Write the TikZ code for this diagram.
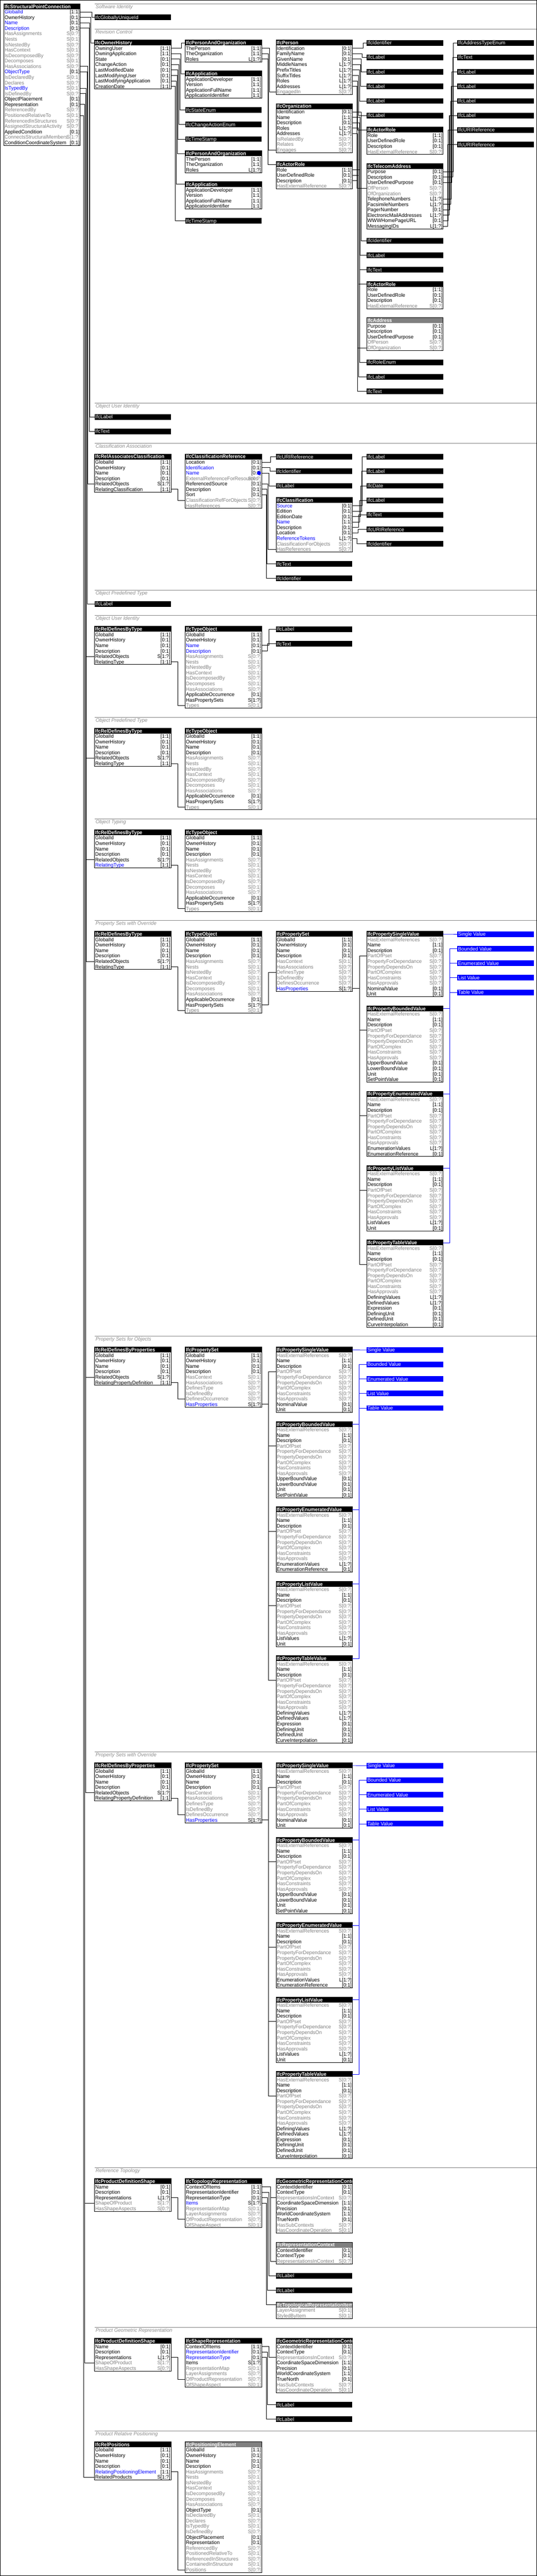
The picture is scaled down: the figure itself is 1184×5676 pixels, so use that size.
\documentclass[tikz,border=0pt]{standalone}
\usepackage{fontspec}
\newfontfamily\rfont{Liberation Sans}[FakeStretch=0.97]
\newfontfamily\hfont{Liberation Sans}[FakeStretch=0.93]
\definecolor{nB}{RGB}{0,0,0}\definecolor{cB}{RGB}{0,0,0}
\definecolor{nU}{RGB}{0,0,255}\definecolor{cU}{RGB}{0,0,0}
\definecolor{nG}{RGB}{128,128,128}\definecolor{cG}{RGB}{128,128,128}
\definecolor{nV}{RGB}{0,0,255}\definecolor{cV}{RGB}{128,128,128}
\definecolor{hgray}{RGB}{128,128,128}
\definecolor{sepgray}{RGB}{128,128,128}
\definecolor{secgray}{RGB}{140,140,140}
\definecolor{pblue}{RGB}{0,0,255}
\tikzset{
 rtxt/.style={inner sep=0pt,outer sep=0pt,font=\rfont\fontsize{11.3}{12}\selectfont},
 htxt/.style={inner sep=0pt,outer sep=0pt,text=white,font=\hfont\bfseries\fontsize{11.3}{12}\selectfont},
 ttxt/.style={inner sep=0pt,outer sep=0pt,text=white,font=\rfont\fontsize{11.3}{12}\selectfont},
 stxt/.style={inner sep=0pt,outer sep=0pt,text=secgray,font=\rfont\itshape\fontsize{11.3}{12}\selectfont},
 bx/.style={draw=black,line width=1pt},
 cnl/.style={line width=1pt},
 sepl/.style={draw=sepgray,line width=1pt},
}
\newcommand\ebox[6][black]{%
 \fill[#1] (#3,#4) rectangle ++(168.5,12);
 \begin{scope}
 \clip (#3,#4) rectangle ++(168.5,12);
 \node[htxt,anchor=base west] (#2) at ({#3+1.5},{#4+10}) {#5};
 \end{scope}
 \coordinate (#2-L0) at (#3,{#4+6});
 \coordinate (#2-R0) at ({#3+168.5},{#4+6});
 \foreach \nm/\cd/\cl [count=\i] in #6 {%
   \node[rtxt,text=n\cl,anchor=base west] at ({#3+1.5},{#4+12*\i+10}) {\nm};
   \node[rtxt,text=c\cl,anchor=base east] at ({#3+167},{#4+12*\i+10}) {\cd};
   \coordinate (#2-L\i) at (#3,{#4+12*\i+6});
   \coordinate (#2-R\i) at ({#3+168.5},{#4+12*\i+6});
   \xdef\nrows{\i}%
 }
 \draw[bx] (#3,#4) rectangle ({#3+168.5},{#4+12+12*\nrows});
}
\newcommand\tb[5][black]{%
 \fill[#1] (#3,#4) rectangle ++(168.5,12.4);
 \node[ttxt,anchor=base west] (#2) at ({#3+1.5},{#4+10.2}) {#5};
 \coordinate (#2-L0) at (#3,{#4+6.2});
}
\newcommand\cn[4][black]{%
 \coordinate (cV) at (#3,0);
 \draw[cnl,draw=#1] (#2) -| (cV |- #4) -- (#4);
}
\newcommand\sect[3]{%
 \draw[sepl] (208.5,#2) -- (1183,#2);
 \node[stxt,anchor=base west] (#1) at (211,{#2+10.3}) {#3};
}
\def\lSPC{GlobalId/[1:1]/U,OwnerHistory/[0:1]/B,Name/[0:1]/U,Description/[0:1]/U,HasAssignments/S[0:?]/G,Nests/S[0:1]/G,IsNestedBy/S[0:?]/G,HasContext/S[0:1]/G,IsDecomposedBy/S[0:?]/G,Decomposes/S[0:1]/G,HasAssociations/S[0:?]/G,ObjectType/[0:1]/U,IsDeclaredBy/S[0:1]/G,Declares/S[0:?]/G,IsTypedBy/S[0:1]/V,IsDefinedBy/S[0:?]/G,ObjectPlacement/[0:1]/B,Representation/[0:1]/B,ReferencedBy/S[0:?]/G,PositionedRelativeTo/S[0:1]/G,ReferencedInStructures/S[0:?]/G,AssignedStructuralActivity/S[0:?]/G,AppliedCondition/[0:1]/B,ConnectsStructuralMembers/S[1:?]/G,ConditionCoordinateSystem/[0:1]/B}
\def\lOH{OwningUser/[1:1]/B,OwningApplication/[1:1]/B,State/[0:1]/B,ChangeAction/[0:1]/B,LastModifiedDate/[0:1]/B,LastModifyingUser/[0:1]/B,LastModifyingApplication/[0:1]/B,CreationDate/[1:1]/B}
\def\lPAO{ThePerson/[1:1]/B,TheOrganization/[1:1]/B,Roles/L[1:?]/B}
\def\lAPP{ApplicationDeveloper/[1:1]/B,Version/[1:1]/B,ApplicationFullName/[1:1]/B,ApplicationIdentifier/[1:1]/B}
\def\lPER{Identification/[0:1]/B,FamilyName/[0:1]/B,GivenName/[0:1]/B,MiddleNames/L[1:?]/B,PrefixTitles/L[1:?]/B,SuffixTitles/L[1:?]/B,Roles/L[1:?]/B,Addresses/L[1:?]/B,EngagedIn/S[0:?]/G}
\def\lORG{Identification/[0:1]/B,Name/[1:1]/B,Description/[0:1]/B,Roles/L[1:?]/B,Addresses/L[1:?]/B,IsRelatedBy/S[0:?]/G,Relates/S[0:?]/G,Engages/S[0:?]/G}
\def\lAR{Role/[1:1]/B,UserDefinedRole/[0:1]/B,Description/[0:1]/B,HasExternalReference/S[0:?]/G}
\def\lTEL{Purpose/[0:1]/B,Description/[0:1]/B,UserDefinedPurpose/[0:1]/B,OfPerson/S[0:?]/G,OfOrganization/S[0:?]/G,TelephoneNumbers/L[1:?]/B,FacsimileNumbers/L[1:?]/B,PagerNumber/[0:1]/B,ElectronicMailAddresses/L[1:?]/B,WWWHomePageURL/[0:1]/B,MessagingIDs/L[1:?]/B}
\def\lADR{Purpose/[0:1]/B,Description/[0:1]/B,UserDefinedPurpose/[0:1]/B,OfPerson/S[0:?]/G,OfOrganization/S[0:?]/G}
\def\lRAC{GlobalId/[1:1]/B,OwnerHistory/[0:1]/B,Name/[0:1]/B,Description/[0:1]/B,RelatedObjects/S[1:?]/B,RelatingClassification/[1:1]/B}
\def\lCR{Location/[0:1]/B,Identification/[0:1]/U,Name/[0:1]/U,ExternalReferenceForResources/S[0:?]/G,ReferencedSource/[0:1]/B,Description/[0:1]/B,Sort/[0:1]/B,ClassificationRefForObjects/S[0:?]/G,HasReferences/S[0:?]/G}
\def\lCL{Source/[0:1]/U,Edition/[0:1]/B,EditionDate/[0:1]/B,Name/[1:1]/U,Description/[0:1]/B,Location/[0:1]/B,ReferenceTokens/L[1:?]/U,ClassificationForObjects/S[0:?]/G,HasReferences/S[0:?]/G}
\def\lRDT{GlobalId/[1:1]/B,OwnerHistory/[0:1]/B,Name/[0:1]/B,Description/[0:1]/B,RelatedObjects/S[1:?]/B,RelatingType/[1:1]/B}
\def\lRDTb{GlobalId/[1:1]/B,OwnerHistory/[0:1]/B,Name/[0:1]/B,Description/[0:1]/B,RelatedObjects/S[1:?]/B,RelatingType/[1:1]/U}
\def\lTO{GlobalId/[1:1]/B,OwnerHistory/[0:1]/B,Name/[0:1]/B,Description/[0:1]/B,HasAssignments/S[0:?]/G,Nests/S[0:1]/G,IsNestedBy/S[0:?]/G,HasContext/S[0:1]/G,IsDecomposedBy/S[0:?]/G,Decomposes/S[0:1]/G,HasAssociations/S[0:?]/G,ApplicableOccurrence/[0:1]/B,HasPropertySets/S[1:?]/B,Types/S[0:1]/G}
\def\lTOb{GlobalId/[1:1]/B,OwnerHistory/[0:1]/B,Name/[0:1]/U,Description/[0:1]/U,HasAssignments/S[0:?]/G,Nests/S[0:1]/G,IsNestedBy/S[0:?]/G,HasContext/S[0:1]/G,IsDecomposedBy/S[0:?]/G,Decomposes/S[0:1]/G,HasAssociations/S[0:?]/G,ApplicableOccurrence/[0:1]/B,HasPropertySets/S[1:?]/B,Types/S[0:1]/G}
\def\lPS{GlobalId/[1:1]/B,OwnerHistory/[0:1]/B,Name/[0:1]/B,Description/[0:1]/B,HasContext/S[0:1]/G,HasAssociations/S[0:?]/G,DefinesType/S[0:?]/G,IsDefinedBy/S[0:?]/G,DefinesOccurrence/S[0:?]/G,HasProperties/S[1:?]/U}
\def\lPVc{HasExternalReferences/S[0:?]/G,Name/[1:1]/B,Description/[0:1]/B,PartOfPset/S[0:?]/G,PropertyForDependance/S[0:?]/G,PropertyDependsOn/S[0:?]/G,PartOfComplex/S[0:?]/G,HasConstraints/S[0:?]/G,HasApprovals/S[0:?]/G}
\edef\lPSV{\lPVc,NominalValue/[0:1]/B,Unit/[0:1]/B}
\edef\lPBV{\lPVc,UpperBoundValue/[0:1]/B,LowerBoundValue/[0:1]/B,Unit/[0:1]/B,SetPointValue/[0:1]/B}
\edef\lPEV{\lPVc,EnumerationValues/L[1:?]/B,EnumerationReference/[0:1]/B}
\edef\lPLV{\lPVc,ListValues/L[1:?]/B,Unit/[0:1]/B}
\edef\lPTV{\lPVc,DefiningValues/L[1:?]/B,DefinedValues/L[1:?]/B,Expression/[0:1]/B,DefiningUnit/[0:1]/B,DefinedUnit/[0:1]/B,CurveInterpolation/[0:1]/B}
\def\lRDP{GlobalId/[1:1]/B,OwnerHistory/[0:1]/B,Name/[0:1]/B,Description/[0:1]/B,RelatedObjects/S[1:?]/B,RelatingPropertyDefinition/[1:1]/B}
\def\lPDS{Name/[0:1]/B,Description/[0:1]/B,Representations/L[1:?]/B,ShapeOfProduct/S[1:?]/G,HasShapeAspects/S[0:?]/G}
\def\lTR{ContextOfItems/[1:1]/B,RepresentationIdentifier/[0:1]/B,RepresentationType/[0:1]/B,Items/S[1:?]/U,RepresentationMap/S[0:1]/G,LayerAssignments/S[0:?]/G,OfProductRepresentation/S[0:?]/G,OfShapeAspect/S[0:1]/G}
\def\lSR{ContextOfItems/[1:1]/B,RepresentationIdentifier/[0:1]/U,RepresentationType/[0:1]/U,Items/S[1:?]/B,RepresentationMap/S[0:1]/G,LayerAssignments/S[0:?]/G,OfProductRepresentation/S[0:?]/G,OfShapeAspect/S[0:1]/G}
\def\lGRC{ContextIdentifier/[0:1]/B,ContextType/[0:1]/B,RepresentationsInContext/S[0:?]/G,CoordinateSpaceDimension/[1:1]/B,Precision/[0:1]/B,WorldCoordinateSystem/[1:1]/B,TrueNorth/[0:1]/B,HasSubContexts/S[0:?]/G,HasCoordinateOperation/S[0:1]/G}
\def\lRC{ContextIdentifier/[0:1]/B,ContextType/[0:1]/B,RepresentationsInContext/S[0:?]/G}
\def\lTRI{LayerAssignment/S[0:1]/G,StyledByItem/S[0:1]/G}
\def\lRP{GlobalId/[1:1]/B,OwnerHistory/[0:1]/B,Name/[0:1]/B,Description/[0:1]/B,RelatingPositioningElement/[1:1]/U,RelatedProducts/S[1:?]/B}
\def\lPE{GlobalId/[1:1]/B,OwnerHistory/[0:1]/B,Name/[0:1]/B,Description/[0:1]/B,HasAssignments/S[0:?]/G,Nests/S[0:1]/G,IsNestedBy/S[0:?]/G,HasContext/S[0:1]/G,IsDecomposedBy/S[0:?]/G,Decomposes/S[0:1]/G,HasAssociations/S[0:?]/G,ObjectType/[0:1]/B,IsDeclaredBy/S[0:1]/G,Declares/S[0:?]/G,IsTypedBy/S[0:1]/G,IsDefinedBy/S[0:?]/G,ObjectPlacement/[0:1]/B,Representation/[0:1]/B,ReferencedBy/S[0:?]/G,PositionedRelativeTo/S[0:1]/G,ReferencedInStructures/S[0:?]/G,ContainedInStructure/S[0:1]/G,Positions/S[0:?]/G}
% property value group: #1 prefix, #2 x, #3 y, #4 x of blue boxes
\newcommand\pvg[4]{%
 \ebox{#11}{#2}{#3}{IfcPropertySingleValue}{\lPSV}
 \ebox{#12}{#2}{#3+164}{IfcPropertyBoundedValue}{\lPBV}
 \ebox{#13}{#2}{#3+352}{IfcPropertyEnumeratedValue}{\lPEV}
 \ebox{#14}{#2}{#3+516}{IfcPropertyListValue}{\lPLV}
 \ebox{#15}{#2}{#3+680}{IfcPropertyTableValue}{\lPTV}
 \tb[pblue]{#1b1}{#4}{#3}{Single Value}
 \tb[pblue]{#1b2}{#4}{#3+32}{Bounded Value}
 \tb[pblue]{#1b3}{#4}{#3+64}{Enumerated Value}
 \tb[pblue]{#1b4}{#4}{#3+96}{List Value}
 \tb[pblue]{#1b5}{#4}{#3+128}{Table Value}
 \draw[cnl,draw=pblue] (#11-R0) -- (#1b1-L0);
 \cn[pblue]{#12-R0}{#4-16.5}{#1b2-L0}
 \cn[pblue]{#13-R0}{#4-16.5}{#1b3-L0}
 \cn[pblue]{#14-R0}{#4-16.5}{#1b4-L0}
 \cn[pblue]{#15-R0}{#4-16.5}{#1b5-L0}
}
\begin{document}
\begin{tikzpicture}[x=1pt,y=-1pt]
\useasboundingbox (0,0) rectangle (1184,5676);
\fill[white] (0,0) rectangle (1184,5676);
\draw[line width=1pt] (0.5,0.5) rectangle (1183.5,5675.5);
% ---------------- Software identity / revision control
\sect{sA}{8.3}{Software Identity}
\ebox{spc}{8.5}{8.3}{IfcStructuralPointConnection}{\lSPC}
\tb{guid}{208.5}{32.3}{IfcGloballyUniqueId}
\sect{sB}{64.3}{Revision Control}
\ebox{oh}{208.5}{88.3}{IfcOwnerHistory}{\lOH}
\ebox{pao}{408.5}{88.3}{IfcPersonAndOrganization}{\lPAO}
\ebox{app}{408.5}{156.3}{IfcApplication}{\lAPP}
\tb{stenum}{408.5}{236.3}{IfcStateEnum}
\tb{caenum}{408.5}{268.3}{IfcChangeActionEnum}
\tb{tsa}{408.5}{300.3}{IfcTimeStamp}
\ebox{paob}{408.5}{332.3}{IfcPersonAndOrganization}{\lPAO}
\ebox{appb}{408.5}{400.3}{IfcApplication}{\lAPP}
\tb{tsb}{408.5}{480.3}{IfcTimeStamp}
\ebox{per}{608.5}{88.3}{IfcPerson}{\lPER}
\ebox{org}{608.5}{228.3}{IfcOrganization}{\lORG}
\ebox{ara}{608.5}{356.3}{IfcActorRole}{\lAR}
\tb{pid}{808.5}{88.3}{IfcIdentifier}
\tb{pla}{808.5}{120.3}{IfcLabel}
\tb{plb}{808.5}{152.3}{IfcLabel}
\tb{plc}{808.5}{184.3}{IfcLabel}
\tb{pld}{808.5}{216.3}{IfcLabel}
\tb{ple}{808.5}{248.3}{IfcLabel}
\ebox{arb}{808.5}{280.3}{IfcActorRole}{\lAR}
\ebox{tel}{808.5}{360.3}{IfcTelecomAddress}{\lTEL}
\tb{oid}{808.5}{524.3}{IfcIdentifier}
\tb{ola}{808.5}{556.3}{IfcLabel}
\tb{ota}{808.5}{588.3}{IfcText}
\ebox{arc}{808.5}{620.3}{IfcActorRole}{\lAR}
\ebox[hgray]{adr}{808.5}{700.3}{IfcAddress}{\lADR}
\tb{roleenum}{808.5}{792.3}{IfcRoleEnum}
\tb{rla}{808.5}{824.3}{IfcLabel}
\tb{rta}{808.5}{856.3}{IfcText}
\tb{atenum}{1008.5}{88.3}{IfcAddressTypeEnum}
\tb{tta}{1008.5}{120.3}{IfcText}
\tb{tla}{1008.5}{152.3}{IfcLabel}
\tb{tlb}{1008.5}{184.3}{IfcLabel}
\tb{tlc}{1008.5}{216.3}{IfcLabel}
\tb{tld}{1008.5}{248.3}{IfcLabel}
\tb{tua}{1008.5}{280.3}{IfcURIReference}
\tb{tub}{1008.5}{312.3}{IfcURIReference}
% ---------------- Object user identity
\sect{sC}{888.3}{Object User Identity}
\tb{oui}{208.5}{912.3}{IfcLabel}
\tb{ouit}{208.5}{944.3}{IfcText}
% ---------------- Classification association
\sect{sD}{976.3}{Classification Association}
\ebox{rac}{208.5}{1000.3}{IfcRelAssociatesClassification}{\lRAC}
\ebox{cr}{408.5}{1000.3}{IfcClassificationReference}{\lCR}
\fill[pblue] (571,1042.3) circle[radius=4.5pt];
\tb{cru}{608.5}{1000.3}{IfcURIReference}
\tb{cri}{608.5}{1032.3}{IfcIdentifier}
\tb{crl}{608.5}{1064.3}{IfcLabel}
\ebox{cl}{608.5}{1096.3}{IfcClassification}{\lCL}
\tb{crt}{608.5}{1236.3}{IfcText}
\tb{crib}{608.5}{1268.3}{IfcIdentifier}
\tb{clla}{808.5}{1000.3}{IfcLabel}
\tb{cllb}{808.5}{1032.3}{IfcLabel}
\tb{cld}{808.5}{1064.3}{IfcDate}
\tb{cllc}{808.5}{1096.3}{IfcLabel}
\tb{clt}{808.5}{1128.3}{IfcText}
\tb{clu}{808.5}{1160.3}{IfcURIReference}
\tb{cli}{808.5}{1192.3}{IfcIdentifier}
% ---------------- Object predefined type
\sect{sE}{1300.3}{Object Predefined Type}
\tb{opl}{208.5}{1324.3}{IfcLabel}
% ---------------- Object user identity (type)
\sect{sF}{1356.3}{Object User Identity}
\ebox{rdta}{208.5}{1380.3}{IfcRelDefinesByType}{\lRDT}
\ebox{toa}{408.5}{1380.3}{IfcTypeObject}{\lTOb}
\tb{tol}{608.5}{1380.3}{IfcLabel}
\tb{tot}{608.5}{1412.3}{IfcText}
% ---------------- Object predefined type (type)
\sect{sG}{1580.3}{Object Predefined Type}
\ebox{rdtb}{208.5}{1604.3}{IfcRelDefinesByType}{\lRDT}
\ebox{tob}{408.5}{1604.3}{IfcTypeObject}{\lTO}
% ---------------- Object typing
\sect{sH}{1804.3}{Object Typing}
\ebox{rdtc}{208.5}{1828.3}{IfcRelDefinesByType}{\lRDTb}
\ebox{toc}{408.5}{1828.3}{IfcTypeObject}{\lTO}
% ---------------- Property sets with override
\sect{sI}{2028.3}{Property Sets with Override}
\ebox{rdtd}{208.5}{2052.3}{IfcRelDefinesByType}{\lRDT}
\ebox{tod}{408.5}{2052.3}{IfcTypeObject}{\lTO}
\ebox{psa}{608.5}{2052.3}{IfcPropertySet}{\lPS}
\pvg{pA}{808.5}{2052.3}{1008.5}
% ---------------- Property sets for objects
\sect{sJ}{2944.3}{Property Sets for Objects}
\ebox{rdpa}{208.5}{2968.3}{IfcRelDefinesByProperties}{\lRDP}
\ebox{psb}{408.5}{2968.3}{IfcPropertySet}{\lPS}
\pvg{pB}{608.5}{2968.3}{808.5}
% ---------------- Property sets with override (2)
\sect{sK}{3860.3}{Property Sets with Override}
\ebox{rdpb}{208.5}{3884.3}{IfcRelDefinesByProperties}{\lRDP}
\ebox{psc}{408.5}{3884.3}{IfcPropertySet}{\lPS}
\pvg{pC}{608.5}{3884.3}{808.5}
% ---------------- Reference topology
\sect{sL}{4776.3}{Reference Topology}
\ebox{pdsa}{208.5}{4800.3}{IfcProductDefinitionShape}{\lPDS}
\ebox{tr}{408.5}{4800.3}{IfcTopologyRepresentation}{\lTR}
\ebox{grca}{608.5}{4800.3}{IfcGeometricRepresentationContext}{\lGRC}
\ebox[hgray]{rc}{608.5}{4940.3}{IfcRepresentationContext}{\lRC}
\tb{trla}{608.5}{5008.3}{IfcLabel}
\tb{trlb}{608.5}{5040.3}{IfcLabel}
\ebox[hgray]{tri}{608.5}{5072.3}{IfcTopologicalRepresentationItem}{\lTRI}
% ---------------- Product geometric representation
\sect{sM}{5128.3}{Product Geometric Representation}
\ebox{pdsb}{208.5}{5152.3}{IfcProductDefinitionShape}{\lPDS}
\ebox{sr}{408.5}{5152.3}{IfcShapeRepresentation}{\lSR}
\ebox{grcb}{608.5}{5152.3}{IfcGeometricRepresentationContext}{\lGRC}
\tb{srla}{608.5}{5292.3}{IfcLabel}
\tb{srlb}{608.5}{5324.3}{IfcLabel}
% ---------------- Product relative positioning
\sect{sN}{5356.3}{Product Relative Positioning}
\ebox{rp}{208.5}{5380.3}{IfcRelPositions}{\lRP}
\ebox[hgray]{pe}{408.5}{5380.3}{IfcPositioningElement}{\lPE}
% ================= connectors
\cn{spc-R1}{202}{guid-L0}
\cn{spc-R2}{199.8}{oh-L0}
\cn{spc-R3}{198.3}{oui-L0}
\cn{spc-R4}{196.7}{ouit-L0}
\cn{spc-R11}{193.4}{rac-L5}
\cn{spc-R12}{191.8}{opl-L0}
\cn{spc-R15}{190.1}{rdta-L5}
\cn{spc-R15}{190.1}{rdtb-L5}
\cn{spc-R15}{190.1}{rdtc-L5}
\cn{spc-R15}{190.1}{rdtd-L5}
\cn{spc-R16}{188.4}{rdpa-L5}
\cn{spc-R16}{188.4}{rdpb-L5}
\cn{spc-R18}{186.4}{pdsa-L4}
\cn{spc-R18}{186.4}{pdsb-L4}
\cn{spc-R20}{184.7}{rp-L6}
% owner history
\cn{oh-R1}{400.5}{pao-L0}
\cn{oh-R2}{398.5}{app-L0}
\cn{oh-R3}{396.5}{stenum-L0}
\cn{oh-R4}{394.5}{caenum-L0}
\cn{oh-R5}{392.5}{tsa-L0}
\cn{oh-R6}{390.5}{paob-L0}
\cn{oh-R7}{388.5}{appb-L0}
\cn{oh-R8}{386.5}{tsb-L0}
\cn{pao-R1}{594.3}{per-L9}
\cn{pao-R2}{592.3}{org-L8}
\cn{pao-R3}{590.3}{ara-L0}
\cn{per-R1}{800.7}{pid-L0}
\cn{per-R2}{798.7}{pla-L0}
\cn{per-R3}{796.7}{plb-L0}
\cn{per-R4}{794.7}{plc-L0}
\cn{per-R5}{792.7}{pld-L0}
\cn{per-R6}{790.7}{ple-L0}
\cn{per-R7}{788.8}{arb-L0}
\cn{per-R8}{786.9}{tel-L4}
\cn{org-R1}{796.5}{oid-L0}
\cn{org-R2}{794.5}{ola-L0}
\cn{org-R3}{792.6}{ota-L0}
\cn{org-R4}{790.7}{arc-L0}
\cn{org-R5}{788.4}{adr-L5}
\cn{ara-R1}{792.6}{roleenum-L0}
\cn{ara-R2}{790.6}{rla-L0}
\cn{ara-R3}{788.6}{rta-L0}
\cn{tel-R1}{999.8}{atenum-L0}
\cn{tel-R2}{998.2}{tta-L0}
\cn{tel-R3}{996.6}{tla-L0}
\cn{tel-R6}{995}{tlb-L0}
\cn{tel-R7}{993.4}{tlc-L0}
\cn{tel-R8}{991.8}{tld-L0}
\cn{tel-R9}{990.2}{tld-L0}
\cn{tel-R10}{988.6}{tua-L0}
\cn{tel-R11}{987}{tub-L0}
% classification
\cn{rac-R6}{392.6}{cr-L8}
\cn{cr-R1}{597}{cru-L0}
\cn{cr-R2}{595}{cri-L0}
\cn{cr-R3}{593}{crl-L0}
\cn{cr-R5}{591}{cl-L9}
\cn{cr-R6}{589}{crt-L0}
\cn{cr-R7}{587}{crib-L0}
\cn{cl-R1}{799}{clla-L0}
\cn{cl-R2}{797}{cllb-L0}
\cn{cl-R3}{795}{cld-L0}
\cn{cl-R4}{793}{cllc-L0}
\cn{cl-R5}{791}{clt-L0}
\cn{cl-R6}{789}{clu-L0}
\cn{cl-R7}{787}{cli-L0}
% typing
\cn{rdta-R6}{392.6}{toa-L14}
\cn{toa-R3}{593}{tol-L0}
\cn{toa-R4}{590}{tot-L0}
\cn{rdtb-R6}{392.6}{tob-L14}
\cn{rdtc-R6}{392.6}{toc-L14}
\cn{rdtd-R6}{392.6}{tod-L14}
\cn{tod-R13}{591.7}{psa-L7}
\foreach \k in {1,...,5}{\cn{psa-R10}{792.8}{pA\k-L4}}
\cn{rdpa-R6}{392.6}{psb-L9}
\foreach \k in {1,...,5}{\cn{psb-R10}{591.7}{pB\k-L4}}
\cn{rdpb-R6}{392.6}{psc-L9}
\foreach \k in {1,...,5}{\cn{psc-R10}{591.7}{pC\k-L4}}
% topology / geometry
\cn{pdsa-R3}{392.6}{tr-L7}
\cn{tr-R1}{597}{grca-L3}
\cn{tr-R1}{597}{rc-L3}
\cn{tr-R2}{593}{trla-L0}
\cn{tr-R3}{590}{trlb-L0}
\cn{tr-R4}{587.2}{tri-L0}
\cn{pdsb-R3}{392.6}{sr-L7}
\cn{sr-R1}{593}{grcb-L3}
\cn{sr-R2}{590}{srla-L0}
\cn{sr-R3}{587.2}{srlb-L0}
\cn{rp-R5}{392.6}{pe-L23}
\end{tikzpicture}
\end{document}
